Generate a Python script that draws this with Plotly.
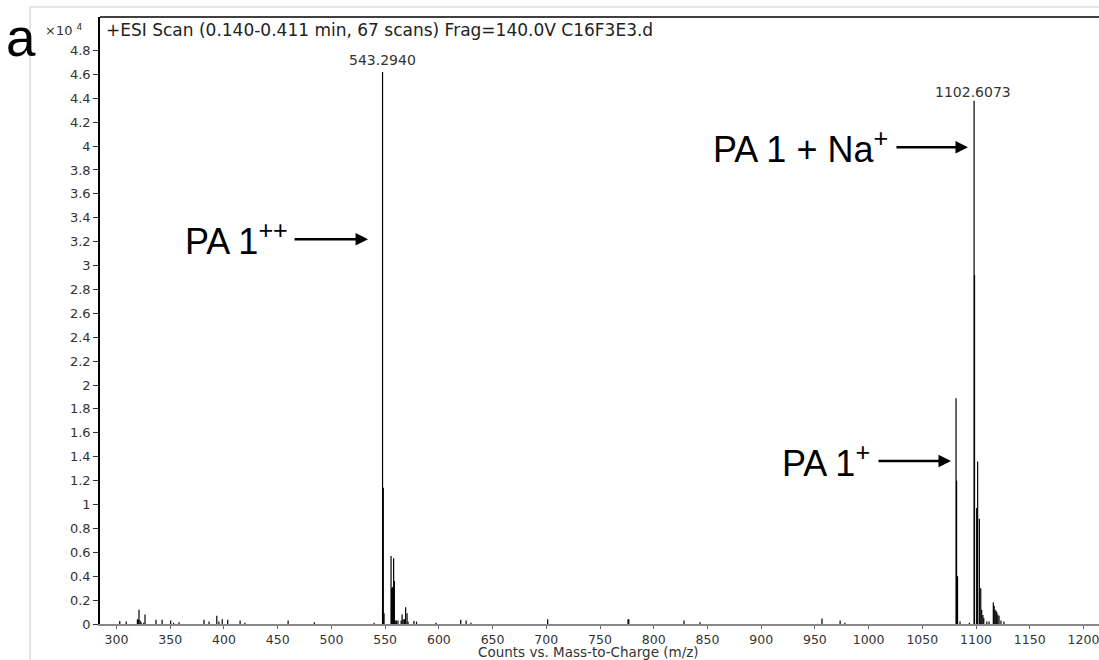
import plotly.graph_objects as go

# m/z values and intensities (x10^4 counts)
mz = [303.0, 309.0, 319.4, 320.2, 320.9, 321.9, 322.9, 325.3, 326.5, 336.7,
      342.4, 350.4, 353.1, 358.2, 381.4, 386.1, 393.3, 395.3, 398.4, 403.5,
      415.0, 419.5, 459.7, 484.1, 539.7,
      547.6, 548.3, 549.0, 555.5, 556.1, 556.7, 557.3, 557.9, 558.6, 559.4,
      560.4, 561.9, 564.9, 565.8, 566.8, 568.1, 569.1, 570.4, 571.3, 576.8,
      579.2, 597.4, 620.4, 625.4, 629.9, 701.3, 776.1, 776.8, 828.2, 843.1,
      956.6, 973.5, 978.0,
      1081.4, 1081.9, 1082.8, 1085.1, 1093.8, 1098.2, 1098.6, 1100.6, 1101.5,
      1103.1, 1104.4, 1105.3, 1106.4, 1107.2, 1110.0, 1112.1, 1116.1, 1116.9,
      1117.7, 1118.5, 1119.3, 1120.3, 1121.4, 1123.2, 1126.0]
intensity = [0.025, 0.02, 0.04, 0.035, 0.12, 0.03, 0.015, 0.01, 0.08, 0.035,
             0.035, 0.03, 0.01, 0.015, 0.035, 0.02, 0.07, 0.02, 0.04, 0.035,
             0.03, 0.01, 0.03, 0.015, 0.01,
             4.62, 1.14, 0.09, 0.57, 0.30, 0.31, 0.30, 0.55, 0.36, 0.03,
             0.03, 0.03, 0.03, 0.08, 0.04, 0.04, 0.14, 0.09, 0.02, 0.025,
             0.02, 0.01, 0.035, 0.03, 0.01, 0.04, 0.04, 0.04, 0.03, 0.015,
             0.045, 0.03, 0.01,
             1.89, 1.20, 0.40, 0.02, 0.01, 4.38, 2.92, 0.97, 1.36,
             0.88, 0.30, 0.12, 0.075, 0.05, 0.02, 0.02, 0.18, 0.15,
             0.12, 0.11, 0.10, 0.08, 0.07, 0.03, 0.02]

x_ticks = list(range(300, 1201, 50))
y_ticks = [round(i * 0.2, 1) for i in range(25)]
y_ticktext = ["%g" % v for v in y_ticks]

title_text = "+ESI Scan (0.140-0.411 min, 67 scans) Frag=140.0V C16F3E3.d"
peak_labels = [("543.2940", 548.0, 4.72), ("1102.6073", 1097.6, 4.45)]
# (text, text right edge x, y, arrow tip x, arrow tail offset px)
species = [("PA 1<sup>++</sup>", 461.5, 3.22, 534.1, -75),
           ("PA 1 + Na<sup>+</sup>", 1019.9, 3.99, 1092.5, -73),
           ("PA 1<sup>+</sup>", 1003.2, 1.364, 1076.7, -74)]

xs, ys = [], []
for m, h in zip(mz, intensity):
    xs += [m, m, None]
    ys += [0, h, None]

FONT = "Liberation Sans, Arial, Helvetica, sans-serif"
WIDE = "DejaVu Sans, Verdana, sans-serif"

fig = go.Figure()
fig.add_trace(go.Scatter(x=xs, y=ys, mode="lines",
                         line=dict(color="black", width=1.2),
                         hoverinfo="skip", showlegend=False))

W, H = 1099, 660
L, R, T, B = 100, 12, 17, 36
pw, ph = W - L - R, H - T - B
X_RIGHT = 300 + (W - R - 116.5) / 1.0744   # axis value at right edge of plot area


def px(xp):
    return (xp - L) / pw


def py(yp):
    return (H - B - yp) / ph


ann = []
ann.append(dict(text=title_text, xref="paper", yref="paper", x=px(104), y=py(30),
                xanchor="left", yanchor="middle", showarrow=False,
                font=dict(family=WIDE, size=17, color="#222")))
ann.append(dict(text="a", xref="paper", yref="paper", x=px(4), y=py(37.5),
                xanchor="left", yanchor="middle", showarrow=False,
                font=dict(family=FONT, size=53, color="black")))
ann.append(dict(text="×10 <sup>4</sup>", xref="paper", yref="paper", x=px(43), y=py(30),
                xanchor="left", yanchor="middle", showarrow=False,
                font=dict(family=WIDE, size=13, color="#333")))
ann.append(dict(text="Counts vs. Mass-to-Charge (m/z)", xref="paper", yref="paper",
                x=px(588), y=py(652), xanchor="center", yanchor="middle", showarrow=False,
                font=dict(family=WIDE, size=13.5, color="#333")))
for t, xv, yv in peak_labels:
    ann.append(dict(text=t, x=xv, y=yv, xref="x", yref="y", showarrow=False,
                    xanchor="center", yanchor="middle",
                    font=dict(family=WIDE, size=14, color="#333")))
for t, tx, ty, ax_x, axpx in species:
    ann.append(dict(text=t, x=tx, y=ty, xref="x", yref="y", showarrow=False,
                    xanchor="right", yanchor="middle",
                    font=dict(family=FONT, size=36, color="black")))
    ann.append(dict(text="", x=ax_x, y=ty, xref="x", yref="y", showarrow=True,
                    ax=axpx, ay=0, arrowhead=2, arrowsize=1, arrowwidth=2.5,
                    arrowcolor="black", standoff=0, startstandoff=0))

shapes = [
    dict(type="rect", xref="paper", yref="paper", x0=px(30), x1=px(1110),
         y0=py(670), y1=py(7), line=dict(color="#cccccc", width=1), layer="below"),
    dict(type="line", xref="paper", yref="paper", x0=0, x1=px(W), y0=1, y1=1,
         line=dict(color="black", width=1.5)),
    dict(type="line", xref="paper", yref="paper", x0=1, x1=px(W), y0=py(H - B + 1), y1=py(H - B + 1),
         line=dict(color="#888", width=2)),
]

fig.update_layout(
    width=W, height=H, autosize=False,
    margin=dict(l=L, r=R, t=T, b=B, pad=0),
    paper_bgcolor="white", plot_bgcolor="white",
    annotations=ann, shapes=shapes,
    xaxis=dict(range=[284.6, X_RIGHT], tickvals=x_ticks, ticks="outside", ticklen=3,
               tickcolor="#666", tickwidth=1, showline=True, linecolor="#888",
               linewidth=2, showgrid=False, zeroline=False, automargin=False,
               ticklabeloverflow="allow",
               tickfont=dict(family=WIDE, size=12.5, color="#333")),
    yaxis=dict(range=[0, 5.08], tickvals=y_ticks, ticktext=y_ticktext, ticks="outside",
               ticklen=5, tickcolor="#333", tickwidth=1, showline=True, linecolor="black",
               linewidth=1.5, showgrid=False, zeroline=False, automargin=False,
               tickfont=dict(family=WIDE, size=13, color="#333")),
)

fig.write_html("out.html")
